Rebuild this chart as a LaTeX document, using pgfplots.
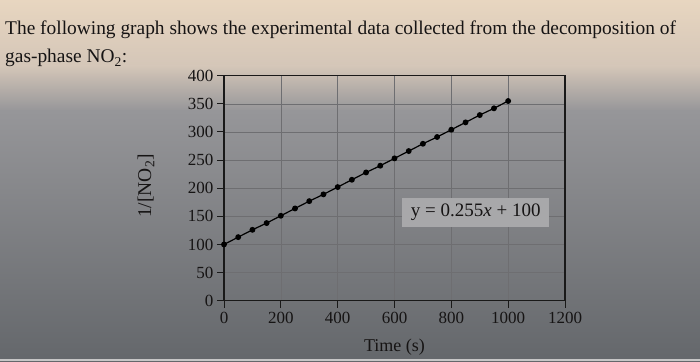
\documentclass[border=0pt]{standalone}
\usepackage{fontspec}
\setmainfont{Liberation Serif}
\usepackage{pgfplots}
\pgfplotsset{compat=1.18}
\definecolor{bgA}{RGB}{232,214,192}
\definecolor{bgB}{RGB}{212,198,184}
\definecolor{bgC}{RGB}{150,150,153}
\definecolor{bgD}{RGB}{100,103,107}
\definecolor{gridc}{RGB}{110,110,113}
\definecolor{boxc}{RGB}{168,168,170}
\definecolor{inkc}{RGB}{22,20,20}
\pgfplotstableread{
t inv
0 100
50 113
100 126
150 138
200 151
250 164
300 177
350 189
400 202
450 215
500 228
550 240
600 253
650 266
700 279
750 291
800 304
850 317
900 330
950 342
1000 355
}\datatable
\begin{document}
\begin{tikzpicture}
\shade[top color=bgA, bottom color=bgB] (0pt,295pt) rectangle (700pt,361pt);
\shade[top color=bgB, bottom color=bgC] (0pt,250pt) rectangle (700pt,295pt);
\shade[top color=bgC, bottom color=bgD] (0pt,0pt) rectangle (700pt,250pt);
\fill[gray!45] (0pt,0pt) rectangle (700pt,2.5pt);
\node[anchor=base west, inner sep=0pt, text=inkc, font=\fontsize{19.4}{22}\selectfont] at (5pt,326pt) {The following graph shows the experimental data collected from the decomposition of};
\node[anchor=base west, inner sep=0pt, text=inkc, font=\fontsize{19.4}{22}\selectfont] at (5pt,298pt) {gas-phase NO\textsubscript{2}:};
\begin{axis}[
  at={(224pt,60.3pt)}, anchor=south west,
  width=341pt, height=225pt, scale only axis,
  xmin=0, xmax=1200, ymin=0, ymax=400,
  xtick={0,200,...,1200}, ytick={0,50,...,400},
  xtick pos=bottom, ytick pos=left,
  grid=major, grid style={gridc, line width=0.6pt},
  axis line style={black!90, line width=1.1pt},
  tick align=outside, major tick length=7pt,
  tick style={black!90, line width=0.9pt},
  /pgf/number format/assume math mode=true,
  /pgf/number format/1000 sep={},
  ticklabel style={font=\fontsize{17}{19}\selectfont, text=inkc},
  xticklabel style={yshift=-1pt},
  xlabel={Time (s)}, ylabel={1/[NO\textsubscript{2}]},
  label style={font=\fontsize{18}{20}\selectfont, text=inkc},
  xlabel style={at={(axis description cs:0.5,-0.2267)}, anchor=base},
  ylabel style={at={(axis description cs:-0.2287,0.51)}, anchor=center, font=\fontsize{19.5}{21}\selectfont},
  clip=false,
]
\addplot[black, line width=1.2pt, mark=*, mark size=2.3pt, mark options={fill=black}] table[x=t, y=inv] {\datatable};
\node[fill=boxc, minimum width=147pt, minimum height=29pt, inner sep=0pt, text=inkc, font=\fontsize{19}{21}\selectfont] at (axis cs:886,157) {y = 0.255\textit{x} + 100};
\end{axis}
\end{tikzpicture}
\end{document}
